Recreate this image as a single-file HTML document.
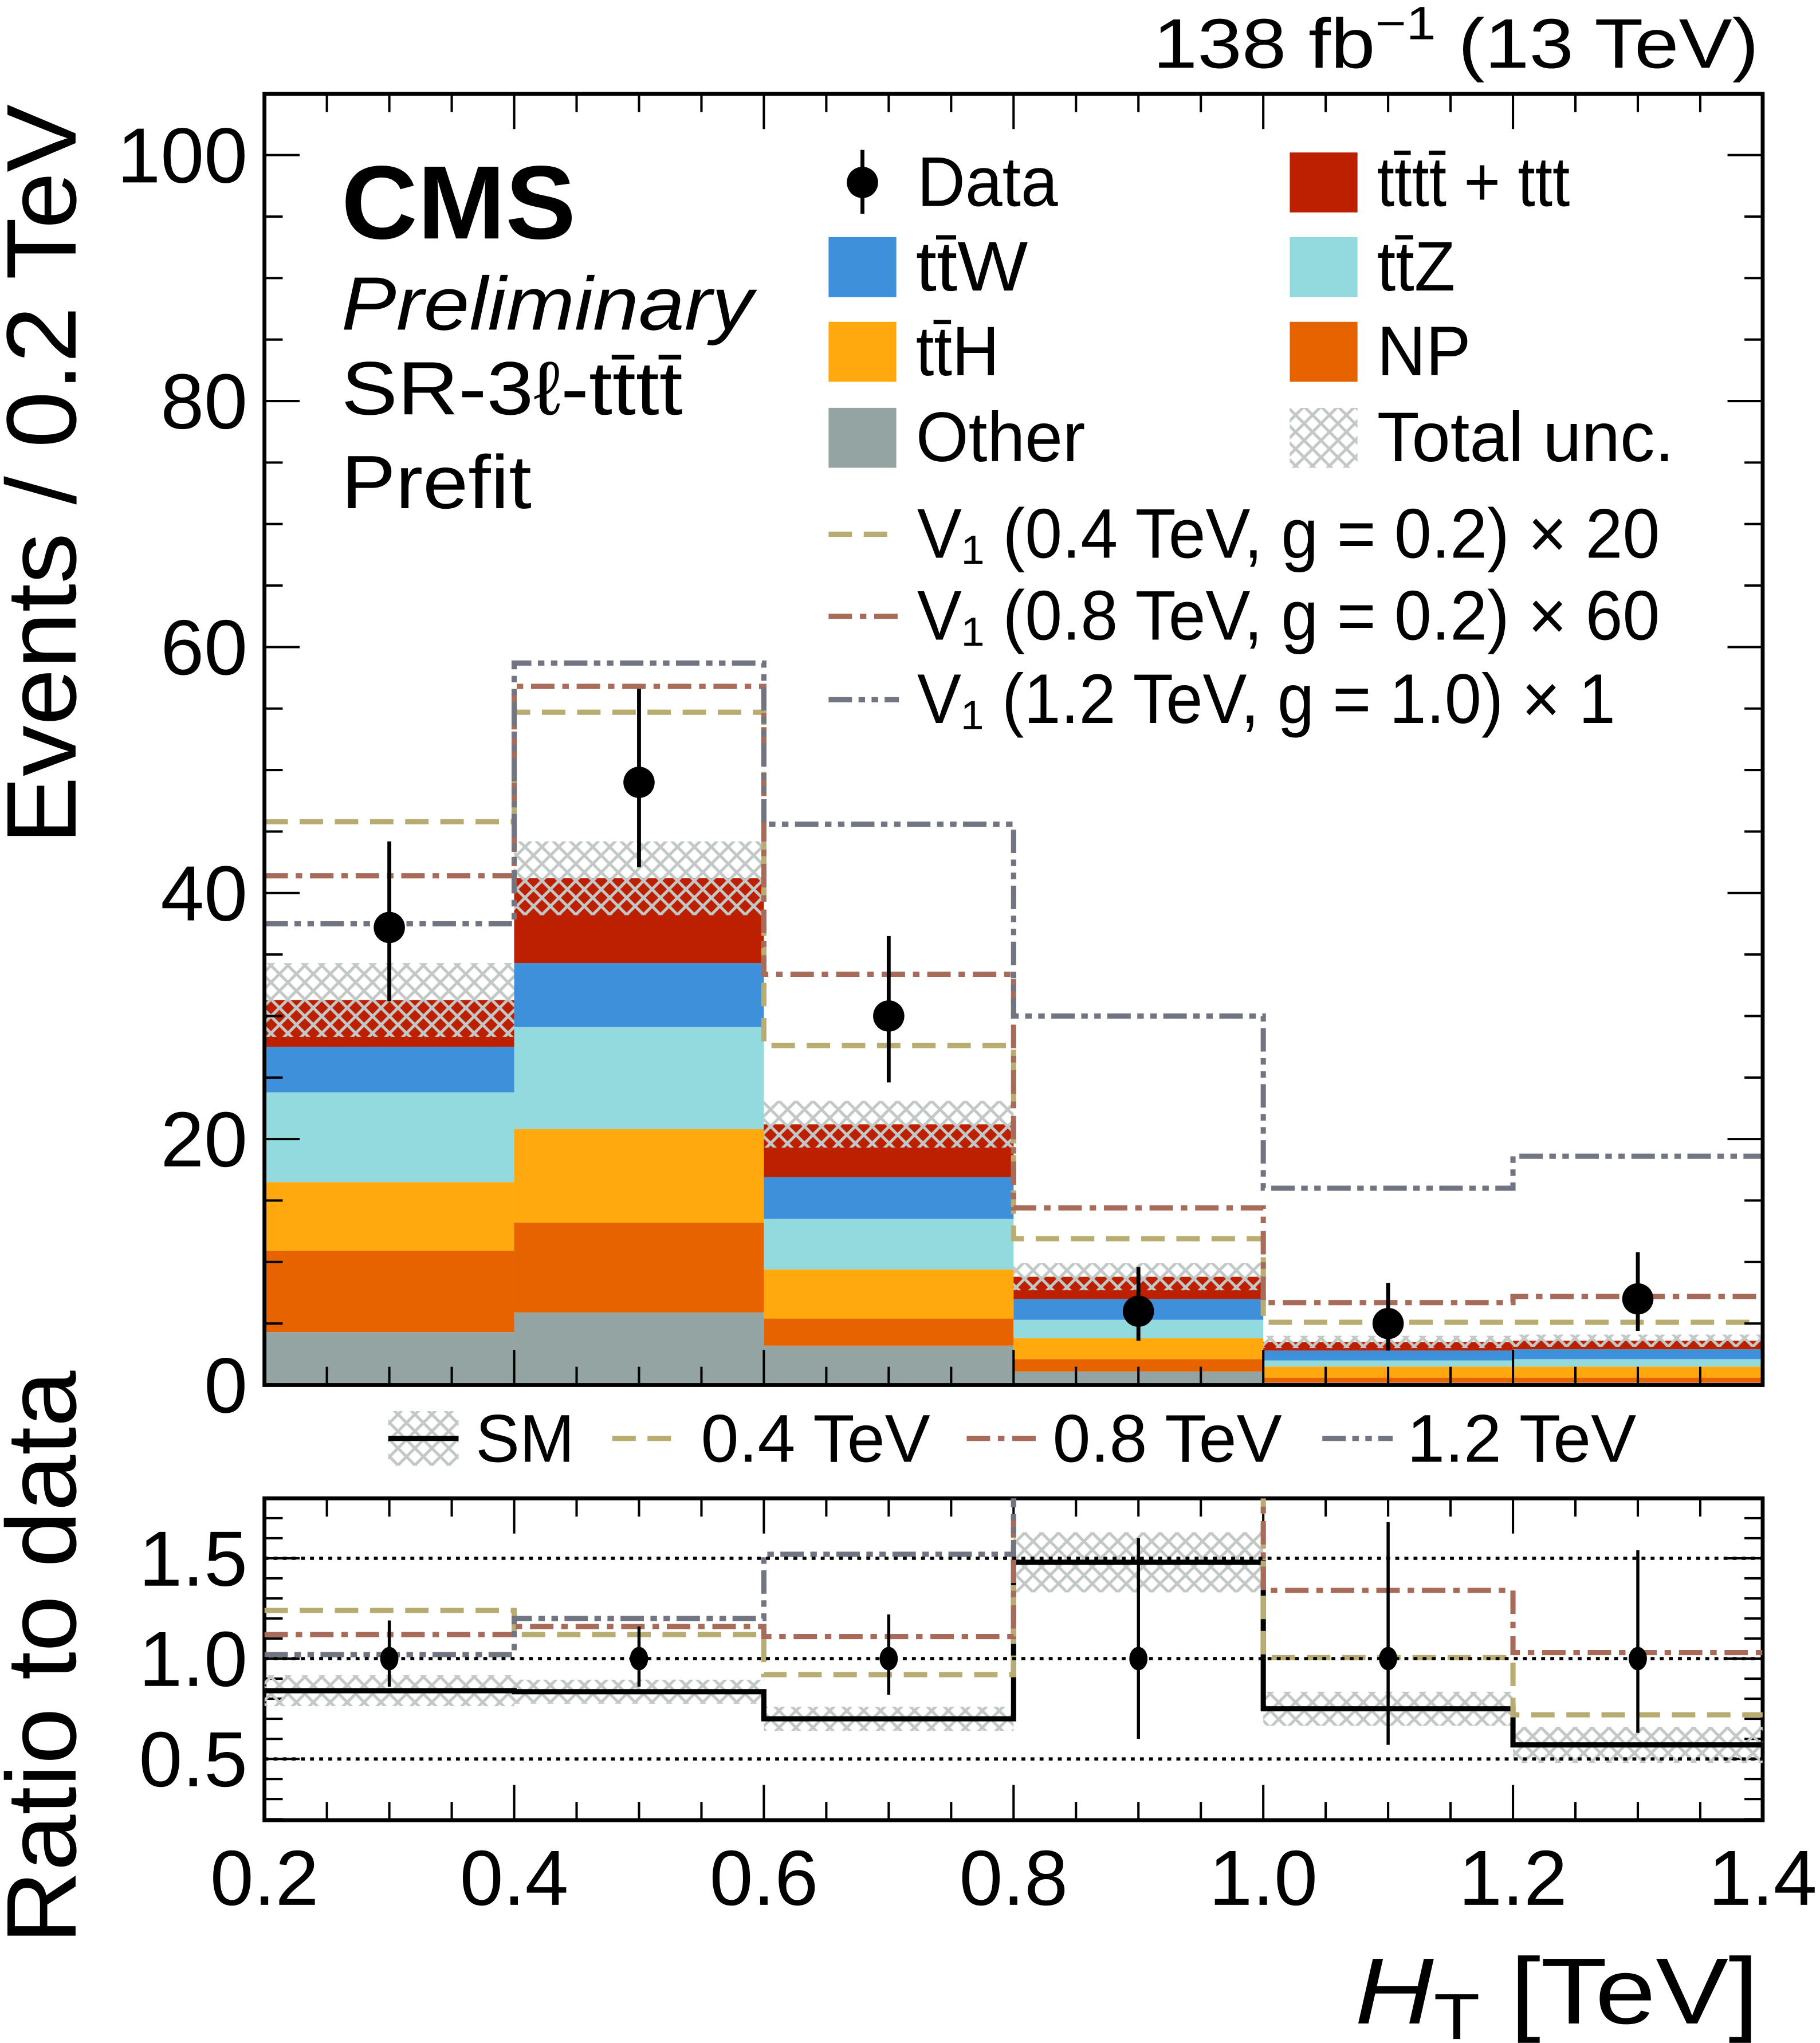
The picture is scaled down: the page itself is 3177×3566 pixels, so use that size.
<!DOCTYPE html>
<html><head><meta charset="utf-8"><style>
html,body{margin:0;padding:0;background:#fff}
svg{display:block}
text{font-family:"Liberation Sans Narrow","Liberation Sans",sans-serif;fill:#000}
</style></head><body>
<svg id="chart" xmlns="http://www.w3.org/2000/svg" width="3177" height="3566" viewBox="0 0 1397 1568">
<defs>
<pattern id="hatch" patternUnits="userSpaceOnUse" width="13" height="13">
<path d="M0,0 L13,13 M13,0 L0,13" stroke="#c2c8c6" stroke-width="2.2" fill="none"/>
</pattern>
<clipPath id="clipMain"><rect x="203" y="72" width="1150" height="991"/></clipPath>
<clipPath id="clipRatio"><rect x="203" y="1150" width="1150" height="247"/></clipPath>
</defs>
<g id="main"></g>
<g id="ratio"></g>
<g id="labels">
<text x="1350" y="52" font-size="54" text-anchor="end" textLength="465" lengthAdjust="spacingAndGlyphs">138 fb<tspan dy="-22" font-size="36">−1</tspan><tspan dy="22"> (13 TeV)</tspan></text>
<text x="262" y="183" font-size="80" font-weight="bold" font-family="Liberation Sans, sans-serif" textLength="180" lengthAdjust="spacingAndGlyphs">CMS</text>
<text x="262" y="253" font-size="58" font-style="italic" textLength="316" lengthAdjust="spacingAndGlyphs">Preliminary</text>
<text x="262" y="318" font-size="58" textLength="262" lengthAdjust="spacingAndGlyphs">SR-3ℓ-tt̄tt̄</text>
<text x="262" y="390" font-size="58" textLength="146" lengthAdjust="spacingAndGlyphs">Prefit</text>
<text transform="translate(58,364) rotate(-90)" font-size="76" text-anchor="middle" textLength="568" lengthAdjust="spacingAndGlyphs">Events / 0.2 TeV</text>
<text transform="translate(58,1272) rotate(-90)" font-size="76" text-anchor="middle" textLength="440" lengthAdjust="spacingAndGlyphs">Ratio to data</text>
<text x="1350" y="1553" font-size="72" text-anchor="end" textLength="310" lengthAdjust="spacingAndGlyphs"><tspan font-style="italic">H</tspan><tspan font-size="50" dy="12">T</tspan><tspan dy="-12">  [TeV]</tspan></text>
</g>
<g id="legend"></g>
</svg>
<script>
const NS="http://www.w3.org/2000/svg";
const binEdges=[0.2,0.4,0.6,0.8,1.0,1.2,1.4];
const other=[4.3,5.9,3.2,1.1,0.2,0.2];
const np=[6.6,7.3,2.2,1.0,0.4,0.4];
const tth=[5.6,7.6,4.0,1.7,0.9,0.9];
const ttz=[7.3,8.3,4.1,1.5,0.5,0.6];
const ttw=[3.7,5.2,3.4,1.7,0.8,0.8];
const tttt=[3.8,6.9,4.3,1.8,0.7,0.7];
const totalUnc=[3.0,3.0,1.9,1.1,0.5,0.5];
const dataVals=[37.2,49,30,6,5,7];
const dataErrUp=[7.0,7.6,6.5,3.6,3.3,3.8];
const dataErrDown=[6.0,6.9,5.4,2.4,2.2,2.6];
const sig04=[45.8,54.7,27.6,11.9,5.1,5.1];
const sig08=[41.4,56.8,33.4,14.4,6.7,7.2];
const sig12=[37.5,58.7,45.6,30.0,16.0,18.6];
const ratioSM=[0.84,0.835,0.70,1.48,0.75,0.57];
const ratioSMUnc=[0.077,0.06,0.06,0.15,0.085,0.09];
const ratio04=[1.24,1.12,0.92,2.5,1.005,0.72];
const ratio08=[1.12,1.16,1.11,2.5,1.34,1.03];
const ratio12=[1.02,1.20,1.52,2.5,2.5,2.5];
const ratioErrUp=[0.19,0.16,0.22,0.6,0.68,0.54];
const ratioErrDown=[0.14,0.14,0.18,0.4,0.43,0.37];
const yTicks=[0,20,40,60,80,100];
const ratioTicks=[0.5,1.0,1.5];
const xTicks=[0.2,0.4,0.6,0.8,1.0,1.2,1.4];

const X0=203,X1=1353,MY0=1063,MY1=72,RY0=1397,RY1=1150;
const xs=v=>X0+(v-0.2)/1.2*(X1-X0);
const ys=v=>1063-v*9.44;
const yr=v=>1273-(v-1)*154;
const main=document.getElementById('main'),ratio=document.getElementById('ratio'),leg=document.getElementById('legend');
function mk(tag,attrs,parent){const e=document.createElementNS(NS,tag);for(const k in attrs)e.setAttribute(k,attrs[k]);parent.appendChild(e);return e;}

const stackDefs=[[other,'#94a4a2','other'],[np,'#e76300','np'],[tth,'#ffa90e','tth'],[ttz,'#92dadd','ttz'],[ttw,'#3f90da','ttw'],[tttt,'#bd1f01','tttt']];
const mg=mk('g',{'clip-path':'url(#clipMain)'},main);
for(let i=0;i<6;i++){let cum=0;
 for(const [arr,col,nm] of stackDefs){const y1=ys(cum+arr[i]),y0=ys(cum);
  const r=mk('rect',{x:xs(binEdges[i]),y:y1,width:xs(binEdges[i+1])-xs(binEdges[i]),height:y0-y1,fill:col},mg);
  
  
  cum+=arr[i];}
 const u=totalUnc[i];
 const h=mk('rect',{x:xs(binEdges[i]),y:ys(cum+u),width:xs(binEdges[i+1])-xs(binEdges[i]),height:ys(cum-u)-ys(cum+u),fill:'url(#hatch)'},mg);
 
 
}
function stepPath(vals,yf){let d='';for(let i=0;i<vals.length;i++){d+=(i?'L':'M')+xs(binEdges[i])+','+yf(vals[i])+'L'+xs(binEdges[i+1])+','+yf(vals[i]);}return d;}
const sigDefs=[[sig04,ratio04,'#b9ac70','18,9','signal-0p4'],[sig08,ratio08,'#a96b59','18,6,5,6','signal-0p8'],[sig12,ratio12,'#717581','18,5,5,5,5,5','signal-1p2']];
for(const [s,r,col,da,nm] of sigDefs){
 const p=mk('path',{d:stepPath(s,ys),fill:'none',stroke:col,'stroke-width':4,'stroke-dasharray':da},mg);
 
 
}
for(let i=0;i<6;i++){const cx=(xs(binEdges[i])+xs(binEdges[i+1]))/2;
 const l=mk('line',{x1:cx,x2:cx,y1:ys(dataVals[i]+dataErrUp[i]),y2:ys(dataVals[i]-dataErrDown[i]),stroke:'#000','stroke-width':3},main);
 
 
 const c=mk('circle',{cx:cx,cy:ys(dataVals[i]),r:12,fill:'#000'},main);
 
 
}
const rg=mk('g',{'clip-path':'url(#clipRatio)'},ratio);
for(let i=0;i<6;i++){
 const h=mk('rect',{x:xs(binEdges[i]),y:yr(ratioSM[i]+ratioSMUnc[i]),width:xs(binEdges[i+1])-xs(binEdges[i]),height:yr(ratioSM[i]-ratioSMUnc[i])-yr(ratioSM[i]+ratioSMUnc[i]),fill:'url(#hatch)'},rg);
 
 
}
for(const v of ratioTicks){const l=mk('line',{x1:X0,x2:X1,y1:yr(v),y2:yr(v),stroke:'#000','stroke-width':2.5,'stroke-dasharray':'3,4'},ratio);
 
 }
const smp=mk('path',{d:stepPath(ratioSM,yr),fill:'none',stroke:'#000','stroke-width':4},rg);


for(const [s,r,col,da,nm] of sigDefs){
 const p=mk('path',{d:stepPath(r,yr),fill:'none',stroke:col,'stroke-width':4,'stroke-dasharray':da},rg);
 
 
}
for(let i=0;i<6;i++){const cx=(xs(binEdges[i])+xs(binEdges[i+1]))/2;
 const l=mk('line',{x1:cx,x2:cx,y1:yr(1+ratioErrUp[i]),y2:yr(1-ratioErrDown[i]),stroke:'#000','stroke-width':2.4},ratio);
 
 
 const c=mk('ellipse',{cx:cx,cy:yr(1),rx:7,ry:9,fill:'#000'},ratio);
 
 
}
for(const [yt,yb,nm] of [[MY1,MY0,'main-frame'],[RY1,RY0,'ratio-frame']]){
 const f=mk('rect',{x:X0,y:yt,width:X1-X0,height:yb-yt,fill:'none',stroke:'#000','stroke-width':3},main);
 
 
 for(let v=0.2;v<=1.4001;v+=0.05){const major=Math.abs(v*5-Math.round(v*5))<1e-6;const L=major?27:14;const x=xs(v);
  mk('line',{x1:x,x2:x,y1:yb,y2:yb-L,stroke:'#000','stroke-width':1.8},main);
  mk('line',{x1:x,x2:x,y1:yt,y2:yt+L,stroke:'#000','stroke-width':1.8},main);}
}
for(let v=0;v<=105;v+=5){const major=v%20===0;const L=major?27:14;const y=ys(v);if(y<MY1)continue;
 mk('line',{x1:X0,x2:X0+L,y1:y,y2:y,stroke:'#000','stroke-width':1.8},main);
 mk('line',{x1:X1,x2:X1-L,y1:y,y2:y,stroke:'#000','stroke-width':1.8},main);}
for(let v=0.2;v<=1.8001;v+=0.1){const major=Math.abs(v*2-Math.round(v*2))<1e-6;const L=major?27:14;const y=yr(v);
 mk('line',{x1:X0,x2:X0+L,y1:y,y2:y,stroke:'#000','stroke-width':1.8},main);
 mk('line',{x1:X1,x2:X1-L,y1:y,y2:y,stroke:'#000','stroke-width':1.8},main);}
for(const v of yTicks){const t=mk('text',{x:190,y:ys(v)+21,'font-size':60,'text-anchor':'end'},main);t.textContent=v;
 
 }
for(const v of ratioTicks){const t=mk('text',{x:190,y:yr(v)+21,'font-size':60,'text-anchor':'end'},main);t.textContent=v.toFixed(1);
 
 }
for(const v of xTicks){const t=mk('text',{x:xs(v),y:1462,'font-size':60,'text-anchor':'middle'},main);t.textContent=v.toFixed(1);
 
 }
function txt(x,y,s,fs,nm,len){const t=mk('text',{x:x,y:y,'font-size':fs},leg);t.textContent=s;if(len){t.setAttribute('textLength',len);t.setAttribute('lengthAdjust','spacingAndGlyphs');}
 
 return t;}
mk('line',{x1:662,x2:662,y1:115,y2:164,stroke:'#000','stroke-width':3},leg);
mk('circle',{cx:662,cy:140,r:12,fill:'#000'},leg);
txt(704,158,'Data',54,'legend-data',108);
const boxes=[[636,205,'#3f90da','tt̄W',86,'legend-ttw'],[636,270,'#ffa90e','tt̄H',64,'legend-tth'],[636,336,'#94a4a2','Other',130,'legend-other'],[990,140,'#bd1f01','tt̄tt̄ + ttt',148,'legend-tttt'],[990,205,'#92dadd','tt̄Z',60,'legend-ttz'],[990,270,'#e76300','NP',72,'legend-np'],[990,336,'url(#hatch)','Total unc.',228,'legend-total-unc']];
for(const [x,y,c,s,len,nm] of boxes){mk('rect',{x:x,y:y-23,width:52,height:46,fill:c},leg);txt(x+67,y+18,s,54,nm,len);}
const lineLeg=[[410,'#b9ac70','18,9','V₁ (0.4 TeV, g = 0.2) × 20','legend-sig-0p4',570],[473,'#a96b59','18,6,5,6','V₁ (0.8 TeV, g = 0.2) × 60','legend-sig-0p8',570],[537,'#717581','18,5,5,5,5,5','V₁ (1.2 TeV, g = 1.0) × 1','legend-sig-1p2',536]];
for(const [y,c,da,s,nm,len] of lineLeg){mk('line',{x1:636,x2:690,y1:y,y2:y,stroke:c,'stroke-width':4,'stroke-dasharray':da},leg);txt(704,y+18,s,54,nm,len);}
mk('rect',{x:298,y:1083,width:54,height:42,fill:'url(#hatch)'},leg);
mk('line',{x1:298,x2:352,y1:1104,y2:1104,stroke:'#000','stroke-width':4},leg);
txt(365,1122,'SM',52,'ratio-legend-sm',76);
const rl=[[470,'#b9ac70','18,9','0.4 TeV',538,'ratio-legend-0p4'],[742,'#a96b59','18,6,5,6','0.8 TeV',808,'ratio-legend-0p8'],[1015,'#717581','18,5,5,5,5,5','1.2 TeV',1080,'ratio-legend-1p2']];
for(const [x,c,da,s,tx,nm] of rl){mk('line',{x1:x,x2:x+54,y1:1104,y2:1104,stroke:c,'stroke-width':4,'stroke-dasharray':da},leg);txt(tx,1122,s,52,nm,176);}
</script>
</body></html>
